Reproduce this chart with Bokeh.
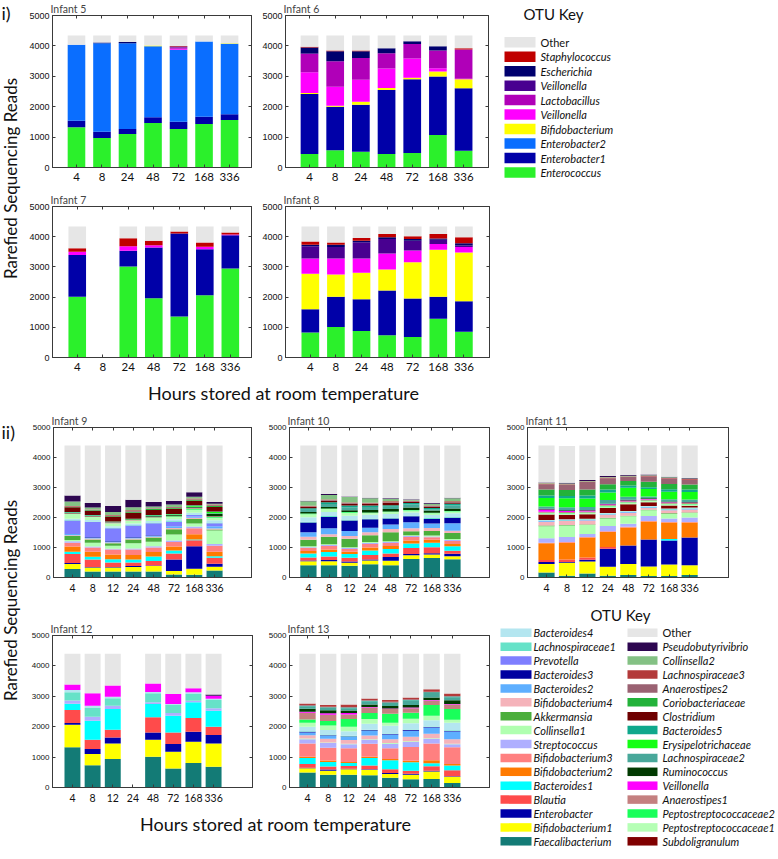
import math
from bokeh.plotting import figure
from bokeh.models import ColumnDataSource, FixedTicker, Range1d, LinearAxis
from bokeh.layouts import row, column
from bokeh.embed import file_html
from bokeh.resources import INLINE
from bokeh.core.properties import value

# ---------------- categories ----------------
TOP_HOURS = ["4", "8", "24", "48", "72", "168", "336"]
BOT_HOURS = ["4", "8", "12", "24", "48", "72", "168", "336"]

# ---------------- section i) ----------------
TOP_KEYS = ["Enterococcus", "Enterobacter1", "Enterobacter2", "Bifidobacterium", "VeillonellaB",
            "Lactobacillus", "VeillonellaA", "Escherichia", "Staphylococcus", "Other"]
TOP_COLORS = ["#2BF02B", "#0000A8", "#0A6EFF", "#FFFF00", "#FF00FF",
              "#B000B8", "#480090", "#00006E", "#C00000", "#E6E6E6"]
TOP_LEGEND = ["Other", "Staphylococcus", "Escherichia", "Veillonella", "Lactobacillus",
              "Veillonella", "Bifidobacterium", "Enterobacter2", "Enterobacter1", "Enterococcus"]

INF5 = {
    "Enterococcus":   [1320, 970, 1100, 1460, 1265, 1430, 1560],
    "Enterobacter1":  [220, 210, 165, 190, 240, 240, 190],
    "Enterobacter2":  [2495, 2910, 2825, 2340, 2365, 2475, 2320],
    "Bifidobacterium": [0, 0, 0, 20, 0, 0, 20],
    "VeillonellaB":   [0, 0, 0, 0, 40, 0, 0],
    "Lactobacillus":  [0, 0, 0, 0, 40, 0, 0],
    "VeillonellaA":   [0, 0, 0, 0, 30, 0, 0],
    "Escherichia":    [0, 20, 40, 0, 0, 0, 0],
    "Staphylococcus": [0, 0, 0, 0, 20, 0, 0],
    "Other":          [305, 230, 210, 330, 340, 195, 250],
}
INF6 = {
    "Enterococcus":   [440, 570, 515, 440, 475, 1065, 550],
    "Enterobacter1":  [1980, 1430, 1550, 2110, 2430, 1925, 2055],
    "Enterobacter2":  [0, 0, 0, 0, 0, 0, 0],
    "Bifidobacterium": [30, 30, 100, 65, 45, 165, 295],
    "VeillonellaB":   [680, 630, 725, 640, 635, 110, 20],
    "Lactobacillus":  [600, 835, 715, 505, 475, 580, 960],
    "VeillonellaA":   [30, 0, 0, 0, 0, 0, 0],
    "Escherichia":    [190, 330, 220, 165, 90, 145, 0],
    "Staphylococcus": [20, 20, 20, 0, 0, 0, 45],
    "Other":          [370, 495, 495, 415, 190, 350, 415],
}
INF7 = {
    "Enterococcus":   [2010, 0, 3015, 1965, 1360, 2065, 2945],
    "Enterobacter1":  [1380, 0, 520, 1675, 2745, 1520, 1105],
    "Enterobacter2":  [0, 0, 0, 0, 0, 0, 0],
    "Bifidobacterium": [0, 0, 0, 0, 0, 0, 0],
    "VeillonellaB":   [110, 0, 145, 80, 0, 80, 20],
    "Lactobacillus":  [0, 0, 0, 0, 0, 0, 0],
    "VeillonellaA":   [0, 0, 0, 0, 0, 0, 0],
    "Escherichia":    [0, 0, 0, 0, 0, 0, 0],
    "Staphylococcus": [120, 0, 265, 145, 65, 145, 70],
    "Other":          [720, 0, 395, 475, 170, 530, 200],
}
INF8 = {
    "Enterococcus":   [825, 1010, 880, 735, 680, 1285, 855],
    "Enterobacter1":  [770, 1000, 1045, 1485, 1275, 725, 1010],
    "Enterobacter2":  [0, 0, 0, 0, 0, 0, 0],
    "Bifidobacterium": [1175, 735, 880, 690, 1200, 1560, 1615],
    "VeillonellaB":   [505, 530, 475, 530, 385, 185, 175],
    "Lactobacillus":  [0, 0, 0, 0, 0, 0, 0],
    "VeillonellaA":   [405, 385, 535, 485, 330, 145, 50],
    "Escherichia":    [55, 75, 55, 55, 55, 40, 80],
    "Staphylococcus": [110, 75, 90, 110, 90, 150, 200],
    "Other":          [495, 530, 380, 250, 325, 250, 355],
}

# ---------------- section ii) ----------------
BOT_KEYS = ["Faecalibacterium", "Bifidobacterium1", "Enterobacter", "Blautia", "Bacteroides1",
            "Bifidobacterium2", "Bifidobacterium3", "Streptococcus", "Collinsella1", "Akkermansia",
            "Bifidobacterium4", "Bacteroides2", "Bacteroides3", "Prevotella", "Lachnospiraceae1",
            "Bacteroides4", "Subdoligranulum", "Peptostreptococcaceae1", "Peptostreptococcaceae2",
            "Anaerostipes1", "Veillonella", "Ruminococcus", "Lachnospiraceae2", "Erysipelotrichaceae",
            "Bacteroides5", "Clostridium", "Coriobacteriaceae", "Anaerostipes2", "Lachnospiraceae3",
            "Collinsella2", "Pseudobutyrivibrio", "Other"]
BOT_COLORS = ["#137B76", "#FFFF00", "#0000A8", "#FF4B4B", "#00FFFF",
              "#FF7A00", "#FF8080", "#AFAFFF", "#B0FFB0", "#4BAE3C",
              "#F5B3BA", "#5EAFFF", "#0000A0", "#7F7FFF", "#66E2C8",
              "#B4E6F0", "#800000", "#B5FFB5", "#19FF5A",
              "#C48080", "#FF00FF", "#013A01", "#48A89A", "#14FF14",
              "#0FA88C", "#6E0000", "#23B23A", "#9A6272", "#B33A3A",
              "#84C184", "#2D0650", "#E6E6E6"]
BOT_LEGEND_COL1 = ["Bacteroides4", "Lachnospiraceae1", "Prevotella", "Bacteroides3", "Bacteroides2",
                   "Bifidobacterium4", "Akkermansia", "Collinsella1", "Streptococcus", "Bifidobacterium3",
                   "Bifidobacterium2", "Bacteroides1", "Blautia", "Enterobacter", "Bifidobacterium1",
                   "Faecalibacterium"]
BOT_LEGEND_COL2 = ["Other", "Pseudobutyrivibrio", "Collinsella2", "Lachnospiraceae3", "Anaerostipes2",
                   "Coriobacteriaceae", "Clostridium", "Bacteroides5", "Erysipelotrichaceae",
                   "Lachnospiraceae2", "Ruminococcus", "Veillonella", "Anaerostipes1",
                   "Peptostreptococcaceae2", "Peptostreptococcaceae1", "Subdoligranulum"]

INF9 = {
    "Faecalibacterium":  [280, 200, 200, 200, 200, 100, 90, 230],
    "Bifidobacterium1":  [170, 130, 130, 150, 180, 120, 200, 130],
    "Enterobacter":      [30, 20, 20, 30, 20, 380, 750, 100],
    "Blautia":           [300, 250, 150, 120, 150, 200, 200, 200],
    "Bacteroides1":      [80, 90, 110, 100, 150, 100, 30, 50],
    "Bifidobacterium2":  [170, 170, 160, 150, 150, 130, 170, 150],
    "Bifidobacterium3":  [130, 140, 160, 180, 150, 150, 200, 200],
    "Streptococcus":     [50, 30, 30, 40, 40, 50, 60, 60],
    "Collinsella1":      [40, 130, 100, 170, 150, 200, 100, 450],
    "Akkermansia":       [130, 110, 80, 130, 140, 180, 150, 30],
    "Bifidobacterium4":  [30, 30, 30, 30, 30, 40, 40, 30],
    "Bacteroides2":      [40, 30, 30, 30, 30, 60, 40, 80],
    "Bacteroides3":      [0, 20, 20, 20, 20, 0, 0, 0],
    "Prevotella":        [450, 500, 420, 380, 400, 150, 50, 100],
    "Lachnospiraceae1":  [20, 20, 20, 20, 20, 20, 20, 20],
    "Bacteroides4":      [40, 50, 50, 50, 50, 60, 60, 80],
    "Peptostreptococcaceae1": [160, 100, 100, 100, 100, 80, 100, 80],
    "Peptostreptococcaceae2": [0, 0, 0, 0, 20, 20, 30, 30],
    "Anaerostipes1":     [20, 20, 20, 20, 20, 20, 30, 20],
    "Ruminococcus":      [10, 10, 10, 10, 20, 20, 20, 80],
    "Lachnospiraceae2":  [10, 10, 10, 10, 10, 10, 20, 20],
    "Erysipelotrichaceae": [10, 10, 10, 10, 20, 20, 30, 40],
    "Bacteroides5":      [10, 10, 10, 10, 10, 10, 20, 20],
    "Clostridium":       [160, 140, 160, 200, 170, 170, 150, 150],
    "Coriobacteriaceae": [10, 20, 20, 30, 30, 30, 30, 30],
    "Anaerostipes2":     [20, 20, 20, 30, 20, 20, 20, 30],
    "Lachnospiraceae3":  [10, 10, 10, 20, 10, 10, 20, 20],
    "Collinsella2":      [150, 60, 100, 100, 60, 80, 60, 30],
    "Pseudobutyrivibrio": [200, 150, 200, 250, 150, 120, 150, 60],
    "Other":             [1670, 1920, 2020, 1810, 1880, 1850, 1560, 1880],
}
INF10 = {
    "Faecalibacterium":  [410, 410, 390, 440, 410, 620, 650, 610],
    "Bifidobacterium1":  [130, 130, 100, 130, 150, 120, 120, 100],
    "Enterobacter":      [30, 40, 40, 30, 120, 40, 40, 80],
    "Blautia":           [100, 120, 130, 150, 120, 200, 200, 100],
    "Bacteroides1":      [130, 150, 120, 150, 150, 150, 150, 150],
    "Bifidobacterium2":  [80, 80, 80, 100, 100, 100, 100, 80],
    "Bifidobacterium3":  [100, 120, 90, 120, 100, 120, 80, 100],
    "Streptococcus":     [30, 30, 30, 30, 30, 30, 30, 30],
    "Collinsella1":      [30, 30, 30, 30, 30, 30, 30, 30],
    "Akkermansia":       [220, 250, 280, 230, 300, 130, 150, 200],
    "Bifidobacterium4":  [100, 80, 90, 100, 110, 100, 100, 80],
    "Bacteroides2":      [150, 200, 170, 150, 150, 200, 150, 250],
    "Bacteroides3":      [320, 380, 350, 280, 200, 200, 150, 180],
    "Lachnospiraceae1":  [30, 30, 30, 30, 30, 30, 30, 30],
    "Bacteroides4":      [150, 130, 130, 120, 120, 100, 100, 120],
    "Peptostreptococcaceae1": [100, 100, 100, 60, 60, 60, 60, 60],
    "Peptostreptococcaceae2": [20, 20, 20, 20, 20, 20, 20, 20],
    "Ruminococcus":      [50, 50, 60, 80, 80, 80, 70, 80],
    "Lachnospiraceae2":  [80, 100, 100, 100, 80, 100, 40, 100],
    "Bacteroides5":      [50, 60, 60, 50, 50, 50, 50, 60],
    "Clostridium":       [40, 50, 60, 50, 80, 40, 40, 40],
    "Anaerostipes2":     [20, 20, 20, 20, 20, 20, 20, 20],
    "Lachnospiraceae3":  [20, 20, 20, 20, 30, 20, 20, 20],
    "Collinsella2":      [150, 150, 180, 150, 80, 30, 60, 100],
    "Pseudobutyrivibrio": [20, 30, 20, 20, 20, 20, 20, 20],
    "Other":             [1840, 1620, 1700, 1740, 1760, 1790, 1920, 1740],
}
INF11 = {
    "Faecalibacterium":  [170, 60, 130, 60, 80, 50, 50, 80],
    "Bifidobacterium1":  [280, 430, 400, 300, 370, 315, 380, 330],
    "Enterobacter":      [70, 30, 60, 600, 620, 900, 800, 920],
    "Blautia":           [60, 80, 80, 60, 0, 0, 0, 0],
    "Bacteroides1":      [0, 0, 0, 0, 0, 0, 50, 0],
    "Bifidobacterium2":  [560, 560, 660, 500, 600, 600, 550, 500],
    "Bifidobacterium3":  [20, 20, 20, 20, 20, 20, 20, 20],
    "Streptococcus":     [150, 170, 100, 180, 100, 165, 120, 150],
    "Collinsella1":      [400, 380, 300, 250, 250, 190, 150, 150],
    "Akkermansia":       [20, 20, 20, 20, 20, 20, 20, 20],
    "Bifidobacterium4":  [130, 130, 130, 100, 100, 60, 100, 100],
    "Bacteroides2":      [20, 20, 20, 20, 20, 20, 20, 20],
    "Lachnospiraceae1":  [20, 20, 20, 20, 20, 20, 20, 20],
    "Bacteroides4":      [20, 20, 20, 20, 20, 20, 20, 20],
    "Subdoligranulum":   [180, 150, 150, 170, 220, 130, 100, 60],
    "Peptostreptococcaceae1": [40, 40, 40, 50, 50, 40, 40, 40],
    "Peptostreptococcaceae2": [20, 20, 20, 20, 20, 20, 20, 20],
    "Anaerostipes1":     [30, 30, 30, 30, 30, 30, 30, 30],
    "Veillonella":       [80, 40, 30, 20, 30, 20, 20, 20],
    "Ruminococcus":      [20, 20, 20, 20, 20, 20, 20, 20],
    "Lachnospiraceae2":  [80, 100, 100, 120, 100, 60, 80, 80],
    "Erysipelotrichaceae": [280, 300, 280, 250, 300, 250, 250, 250],
    "Bacteroides5":      [80, 80, 100, 100, 80, 60, 80, 80],
    "Coriobacteriaceae": [200, 200, 200, 180, 150, 180, 180, 170],
    "Anaerostipes2":     [180, 170, 250, 200, 130, 180, 180, 160],
    "Lachnospiraceae3":  [20, 20, 20, 20, 20, 20, 20, 20],
    "Collinsella2":      [20, 20, 20, 20, 20, 20, 20, 20],
    "Pseudobutyrivibrio": [20, 30, 30, 30, 30, 20, 20, 20],
    "Other":             [1230, 1220, 1150, 1020, 980, 980, 1040, 1080],
}
INF12 = {
    "Faecalibacterium":  [1320, 736, 934, 0, 1011, 626, 802, 681],
    "Bifidobacterium1":  [746, 364, 517, 0, 560, 550, 703, 770],
    "Enterobacter":      [55, 164, 197, 0, 242, 253, 330, 274],
    "Blautia":           [430, 307, 253, 0, 495, 384, 451, 275],
    "Bacteroides1":      [200, 627, 681, 0, 439, 550, 516, 527],
    "Streptococcus":     [110, 132, 110, 0, 55, 88, 55, 77],
    "Lachnospiraceae1":  [270, 285, 242, 0, 297, 263, 220, 275],
    "Bacteroides4":      [80, 77, 55, 0, 40, 33, 55, 40],
    "Veillonella":       [175, 408, 363, 0, 286, 330, 132, 100],
    "Pseudobutyrivibrio": [0, 0, 0, 0, 0, 0, 0, 40],
    "Other":             [1014, 1300, 1048, 0, 975, 1323, 1136, 1341],
}
INF13 = {
    "Faecalibacterium":  [490, 420, 420, 400, 320, 270, 280, 150],
    "Bifidobacterium1":  [140, 130, 180, 180, 120, 150, 250, 200],
    "Enterobacter":      [20, 40, 20, 20, 40, 30, 20, 20],
    "Blautia":           [120, 100, 90, 120, 120, 100, 150, 200],
    "Bacteroides1":      [200, 150, 100, 250, 300, 280, 100, 150],
    "Bifidobacterium2":  [40, 50, 30, 40, 40, 50, 100, 50],
    "Bifidobacterium3":  [440, 420, 450, 430, 350, 450, 550, 550],
    "Streptococcus":     [140, 150, 130, 130, 150, 170, 150, 100],
    "Collinsella1":      [20, 20, 20, 20, 20, 20, 20, 20],
    "Bifidobacterium4":  [110, 120, 120, 120, 130, 150, 150, 150],
    "Bacteroides2":      [90, 100, 100, 150, 150, 200, 200, 250],
    "Bacteroides3":      [20, 20, 20, 20, 20, 20, 20, 20],
    "Lachnospiraceae1":  [20, 20, 20, 20, 20, 20, 20, 20],
    "Bacteroides4":      [150, 150, 150, 200, 250, 200, 200, 250],
    "Peptostreptococcaceae1": [130, 150, 150, 150, 100, 150, 150, 100],
    "Peptostreptococcaceae2": [110, 150, 250, 200, 300, 200, 350, 350],
    "Anaerostipes1":     [220, 200, 150, 180, 150, 150, 150, 150],
    "Veillonella":       [30, 50, 50, 20, 20, 20, 20, 20],
    "Ruminococcus":      [100, 100, 80, 80, 80, 80, 80, 120],
    "Lachnospiraceae2":  [80, 80, 80, 100, 100, 150, 150, 100],
    "Bacteroides5":      [20, 20, 20, 20, 20, 20, 20, 20],
    "Anaerostipes2":     [20, 20, 20, 20, 20, 20, 20, 20],
    "Lachnospiraceae3":  [50, 50, 80, 60, 60, 60, 80, 80],
    "Other":             [1640, 1690, 1670, 1470, 1520, 1440, 1170, 1310],
}

FRAME = "#3a3a3a"
TEXT_C = "#111111"


def full_bottom(d):
    return {k: list(d.get(k, [0] * 8)) for k in BOT_KEYS}


def style_axis(ax):
    ax.major_tick_in = 3
    ax.major_tick_out = 0
    ax.minor_tick_line_color = None
    ax.axis_line_color = FRAME
    ax.major_tick_line_color = FRAME
    ax.major_label_text_color = TEXT_C


def panel(title, hours, keys, colors, data, w, h, ml, mr, mt, mb, xr, bw, yfs, xfs, xstand):
    p = figure(width=w, height=h, x_range=Range1d(*xr), y_range=Range1d(0, 5000),
               output_backend="svg", toolbar_location=None, title=title,
               min_border_left=ml, min_border_right=mr, min_border_top=mt, min_border_bottom=mb)
    xs = list(range(1, len(hours) + 1))
    src = dict(x=xs)
    for k in keys:
        src[k] = data[k]
    p.vbar_stack(keys, x="x", width=bw, color=colors, line_color=None,
                 source=ColumnDataSource(src))
    p.xgrid.visible = False
    p.ygrid.visible = False
    p.outline_line_color = FRAME
    p.outline_line_width = 1
    p.background_fill_color = "white"
    p.border_fill_color = "white"
    yt = [0, 1000, 2000, 3000, 4000, 5000]
    p.xaxis.ticker = FixedTicker(ticks=xs)
    p.xaxis.major_label_overrides = {x: lab for x, lab in zip(xs, hours)}
    p.yaxis.ticker = FixedTicker(ticks=yt)
    for ax in (p.xaxis[0], p.yaxis[0]):
        style_axis(ax)
    p.xaxis.major_label_standoff = xstand
    p.yaxis.major_label_standoff = 3
    p.xaxis.major_label_text_font = "Lato"
    p.xaxis.major_label_text_font_size = xfs
    p.yaxis.major_label_text_font = "Liberation Sans"
    p.yaxis.major_label_text_font_size = yfs
    # matlab-style box: tick marks (no labels) on the top and right edges
    top_ax = LinearAxis(ticker=FixedTicker(ticks=xs), major_label_standoff=0)
    right_ax = LinearAxis(ticker=FixedTicker(ticks=yt), major_label_standoff=0)
    for ax in (top_ax, right_ax):
        style_axis(ax)
        ax.major_label_text_font_size = "1px"
        ax.major_label_text_color = None
    p.add_layout(top_ax, "above")
    p.add_layout(right_ax, "right")
    p.title.align = "left"
    p.title.text_font = "Lato"
    p.title.text_font_size = "10.5px"
    p.title.text_font_style = "normal"
    p.title.offset = -2
    p.title.standoff = 1
    return p


def blank(w, h):
    p = figure(width=w, height=h, x_range=Range1d(0, w), y_range=Range1d(h, 0),
               output_backend="svg", toolbar_location=None, x_axis_type=None, y_axis_type=None,
               min_border=0, min_border_left=0, min_border_right=0, min_border_top=0,
               min_border_bottom=0)
    p.outline_line_color = None
    p.grid.visible = False
    p.background_fill_color = "white"
    p.border_fill_color = "white"
    return p


def label_fig(w, h, items):
    p = blank(w, h)
    for (tx, x, y, size, ang, align) in items:
        p.text(x=[x], y=[y], text=[tx], angle=ang, text_align=align, text_baseline="middle",
               text_font=value("Lato"), text_font_size=size, text_color=TEXT_C)
    return p


def legend_fig(w, h, title_xy, cols):
    p = blank(w, h)
    p.text(x=[title_xy[0]], y=[title_xy[1]], text=["OTU Key"], text_align="left",
           text_baseline="middle", text_font=value("Lato"), text_font_size="15px",
           text_color=TEXT_C)
    for (labels, colors, sx, sw, tx, y0, dy, sh) in cols:
        ys = [y0 + dy * i for i in range(len(labels))]
        p.rect(x=[sx] * len(labels), y=ys, width=sw, height=sh, fill_color=colors, line_color=None)
        ital = [lab for lab in labels if lab != "Other"]
        yi = [y for lab, y in zip(labels, ys) if lab != "Other"]
        p.text(x=[tx] * len(ital), y=yi, text=ital, text_align="left", text_baseline="middle",
               text_font=value("Lato"), text_font_size="11px", text_font_style="italic",
               text_color=TEXT_C)
        yo = [y for lab, y in zip(labels, ys) if lab == "Other"]
        if yo:
            p.text(x=[tx] * len(yo), y=yo, text=["Other"] * len(yo), text_align="left",
                   text_baseline="middle", text_font=value("Lato"), text_font_size="11px",
                   text_color=TEXT_C)
    return p


# ---------------- top section ----------------
p5 = panel("Infant 5", TOP_HOURS, TOP_KEYS, TOP_COLORS, INF5, 232, 190, 28, 5, 15, 23,
           (0.06, 7.86), 0.69, "9px", "11.5px", 5)
p6 = panel("Infant 6", TOP_HOURS, TOP_KEYS, TOP_COLORS, INF6, 240, 190, 29, 8, 15, 23,
           (0.065, 7.97), 0.69, "9px", "11.5px", 5)
p7 = panel("Infant 7", TOP_HOURS, TOP_KEYS, TOP_COLORS, INF7, 232, 188, 28, 5, 16, 21,
           (0.03, 7.83), 0.69, "9px", "11.5px", 5)
p8 = panel("Infant 8", TOP_HOURS, TOP_KEYS, TOP_COLORS, INF8, 240, 188, 29, 7, 16, 21,
           (0.03, 8.0), 0.69, "9px", "11.5px", 5)

top_leg_colors = list(reversed(TOP_COLORS))
leg_top = legend_fig(280, 405, (27, 13),
                     [(TOP_LEGEND, top_leg_colors, 23.5, 31, 44, 41.7, 14.48, 10.5)])
left_top = label_fig(24, 405, [("i)", 1, 12, "18px", 0, "left"),
                               ("Rarefied Sequencing Reads", 10, 178, "17px", math.pi / 2, "center")])
xlab_top = label_fig(472, 27, [("Hours stored at room temperature", 259, 14, "18px", 0, "center")])

top_section = row(left_top, column(row(p5, p6), row(p7, p8), xlab_top), leg_top)

# ---------------- bottom section ----------------
p9 = panel("Infant 9", BOT_HOURS, BOT_KEYS, BOT_COLORS, full_bottom(INF9), 234, 195, 29, 7, 22, 23,
           (0.064, 9.82), 0.79, "8px", "10.5px", 6)
p10 = panel("Infant 10", BOT_HOURS, BOT_KEYS, BOT_COLORS, full_bottom(INF10), 238, 195, 31, 7, 22, 23,
            (0.08, 9.8), 0.79, "8px", "10.5px", 6)
p11 = panel("Infant 11", BOT_HOURS, BOT_KEYS, BOT_COLORS, full_bottom(INF11), 280, 195, 31, 48, 22, 23,
            (0.07, 9.9), 0.79, "8px", "10.5px", 6)
p12 = panel("Infant 12", BOT_HOURS, BOT_KEYS, BOT_COLORS, full_bottom(INF12), 234, 208,
            28, 6, 35, 21, (0.01, 9.93), 0.79, "8px", "10.5px", 6)
p13 = panel("Infant 13", BOT_HOURS, BOT_KEYS, BOT_COLORS, full_bottom(INF13), 238, 208, 31, 7, 35, 21,
            (0.13, 9.8), 0.79, "8px", "10.5px", 6)

bot_colors = dict(zip(BOT_KEYS, BOT_COLORS))
leg_bot = legend_fig(280, 257, (94, 14),
                     [(BOT_LEGEND_COL1, [bot_colors[k] for k in BOT_LEGEND_COL1], 19.5, 31, 37, 32.3, 13.9, 8.5),
                      (BOT_LEGEND_COL2, [bot_colors[k] for k in BOT_LEGEND_COL2], 146, 30, 166, 32.3, 13.9, 8.5)])
left_bot = label_fig(24, 452, [("ii)", 1, 26, "18px", 0, "left"),
                               ("Rarefied Sequencing Reads", 10, 195, "17px", math.pi / 2, "center")])
xlab_bot = label_fig(472, 49, [("Hours stored at room temperature", 251, 15, "18px", 0, "center")])

bottom_section = row(left_bot, column(row(p9, p10, p11), row(column(row(p12, p13), xlab_bot), leg_bot)))

root = column(top_section, bottom_section)

open("out.html", "w").write(file_html(root, INLINE))
